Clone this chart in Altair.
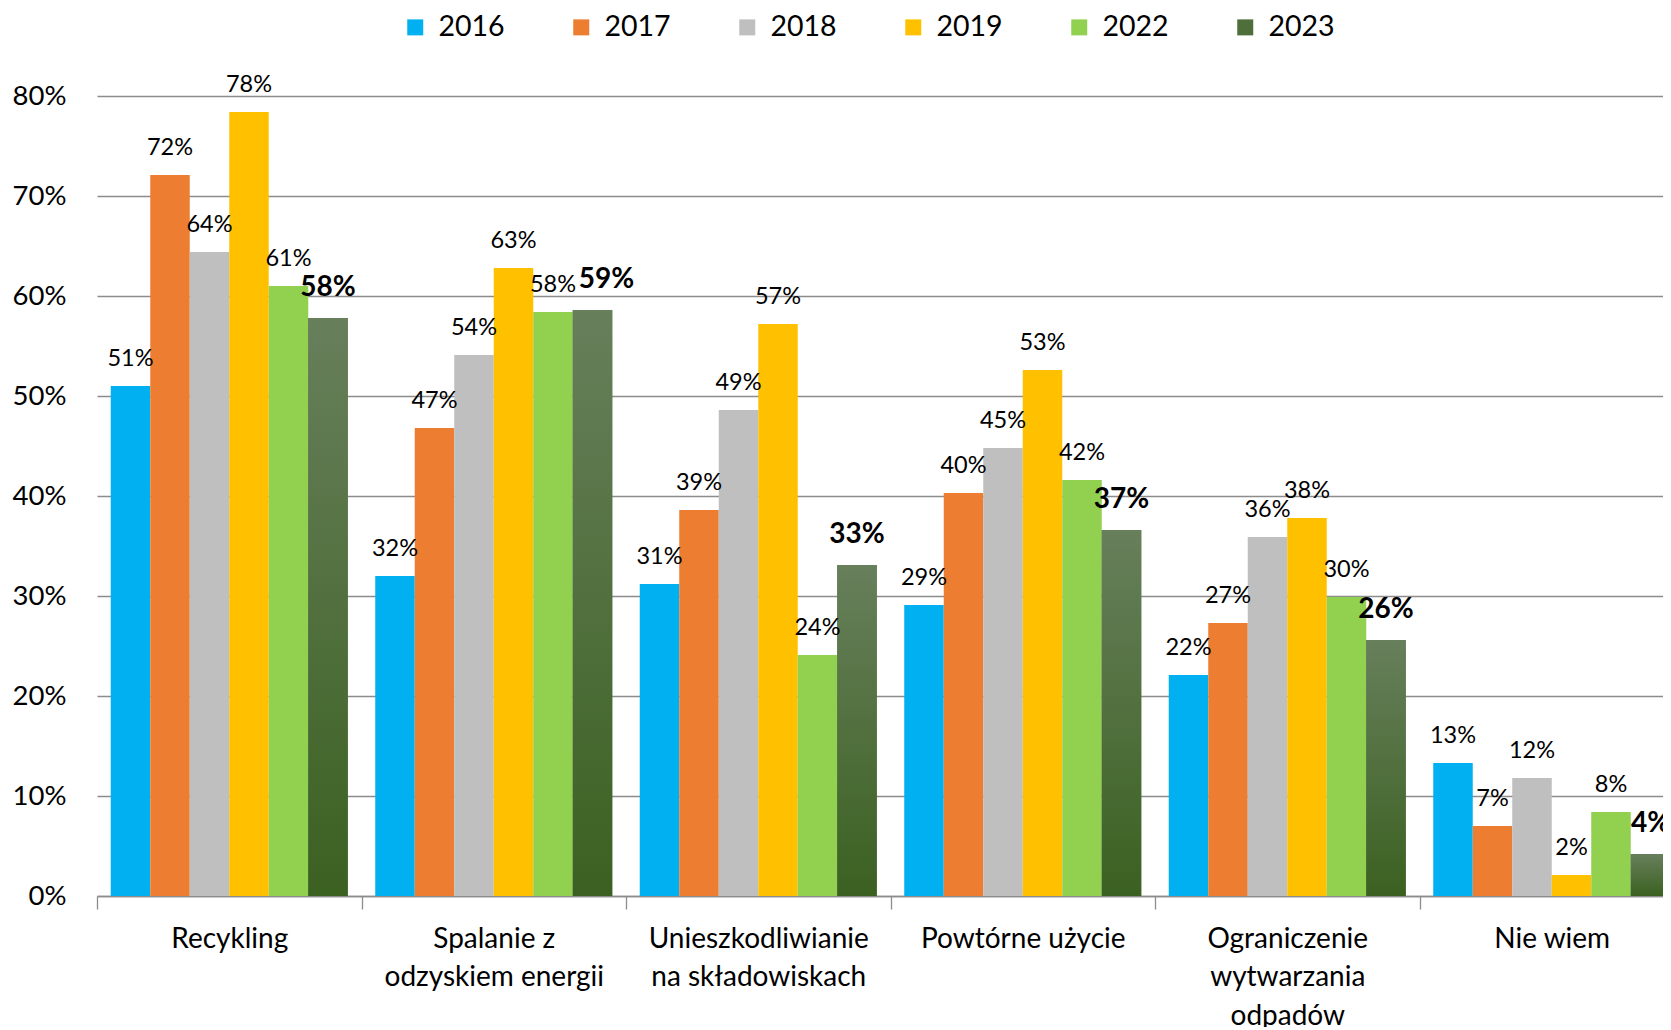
import json
import altair as alt
import pandas as pd

cat_lines = [
    ["Recykling"],
    ["Spalanie z", "odzyskiem energii"],
    ["Unieszkodliwianie", "na składowiskach"],
    ["Powtórne użycie"],
    ["Ograniczenie", "wytwarzania", "odpadów"],
    ["Nie wiem"],
]
categories = [" ".join(l) for l in cat_lines]
years = ["2016", "2017", "2018", "2019", "2022", "2023"]
colors = ["#00b0f0", "#ed7d31", "#bfbfbf", "#ffc000", "#92d050", "#4e6e3a"]

v2016 = [51.0, 32.0, 31.2, 29.1, 22.1, 13.3]
v2017 = [72.1, 46.8, 38.6, 40.3, 27.3, 7.0]
v2018 = [64.4, 54.1, 48.6, 44.8, 35.9, 11.8]
v2019 = [78.4, 62.8, 57.2, 52.6, 37.8, 2.1]
v2022 = [61.0, 58.4, 24.1, 41.6, 29.9, 8.4]
v2023 = [57.8, 58.6, 33.1, 36.6, 25.6, 4.2]
series = [v2016, v2017, v2018, v2019, v2022, v2023]

rows = []
for y, vals in zip(years, series):
    for c, v in zip(categories, vals):
        rows.append({"cat": c, "year": y, "value": v})
df = pd.DataFrame(rows)

FONT = "Lato"
GRID = "#8c8c8c"
label_map = json.dumps({c: l for c, l in zip(categories, cat_lines)}, ensure_ascii=False)

x_enc = alt.X(
    "cat:N",
    sort=categories,
    scale=alt.Scale(domain=categories, range=[0, 1587], paddingInner=0, paddingOuter=0),
    axis=alt.Axis(
        title=None,
        labelAngle=0,
        labelExpr=f"{label_map}[datum.value]",
        labelFont=FONT,
        labelFontSize=28,
        labelColor="#000000",
        labelLineHeight=38.5,
        labelBaseline="top",
        labelPadding=16,
        labelLimit=500,
        domainColor=GRID,
        domainWidth=1.3,
        tickColor=GRID,
        tickWidth=1.3,
        tickSize=13,
        tickBand="extent",
        grid=False,
    ),
)
xo_enc = alt.XOffset(
    "year:N", sort=years,
    scale=alt.Scale(domain=years, paddingInner=0, paddingOuter=0.348),
)
y_enc = alt.Y(
    "value:Q",
    scale=alt.Scale(domain=[0, 80], nice=False),
    axis=alt.Axis(
        title=None,
        values=[0, 10, 20, 30, 40, 50, 60, 70, 80],
        labelExpr="datum.value + '%'",
        labelFont=FONT,
        labelFontSize=27.5,
        labelColor="#000000",
        labelPadding=31,
        ticks=False,
        tickSize=0,
        domain=False,
        grid=True,
        gridColor=GRID,
        gridWidth=1.3,
    ),
)

base = alt.Chart(df).encode(x=x_enc, xOffset=xo_enc, y=y_enc)

bars = base.mark_bar().encode(
    color=alt.Color(
        "year:N",
        sort=years,
        scale=alt.Scale(domain=years, range=colors),
        legend=alt.Legend(
            title=None,
            orient="none",
            direction="horizontal",
            legendX=304,
            legendY=-83,
            symbolType="square",
            symbolSize=256,
            symbolStrokeWidth=0,
            labelFont=FONT,
            labelFontSize=28.5,
            labelColor="#000000",
            labelOffset=9,
            columnPadding=62,
            columns=6,
        ),
    )
)

grad = alt.Gradient(
    gradient="linear",
    stops=[alt.GradientStop(color="#677f5b", offset=0), alt.GradientStop(color="#3b6121", offset=1)],
    x1=0, x2=0, y1=0, y2=1,
)
bars23 = base.transform_filter("datum.year == '2023'").mark_bar(color=grad)

lbl = "format(datum.value, '.0f') + '%'"
text_norm = base.transform_filter("datum.year != '2023'").transform_calculate(lbl=lbl).mark_text(
    font=FONT, fontSize=23.5, color="#000000", baseline="middle", dy=-27
).encode(text="lbl:N")
text_bold = base.transform_filter(
    "datum.year == '2023' && datum.cat != 'Spalanie z odzyskiem energii'"
).transform_calculate(lbl=lbl).mark_text(
    font=FONT, fontSize=28, fontWeight="bold", color="#000000", baseline="middle", dy=-30
).encode(text="lbl:N")
text_bold2 = base.transform_filter(
    "datum.year == '2023' && datum.cat == 'Spalanie z odzyskiem energii'"
).transform_calculate(lbl=lbl).mark_text(
    font=FONT, fontSize=28, fontWeight="bold", color="#000000", baseline="middle", dy=-30, dx=14
).encode(text="lbl:N")

chart = (
    alt.layer(bars, bars23, text_norm, text_bold, text_bold2)
    .properties(
        width=1566,
        height=800,
        autosize=alt.AutoSizeParams(type="none"),
        padding={"left": 89, "top": 88, "right": 0, "bottom": 131},
        background="white",
    )
    .configure_view(stroke=None)
)

chart.save("out.html", embed_options={"renderer": "svg", "actions": False})
